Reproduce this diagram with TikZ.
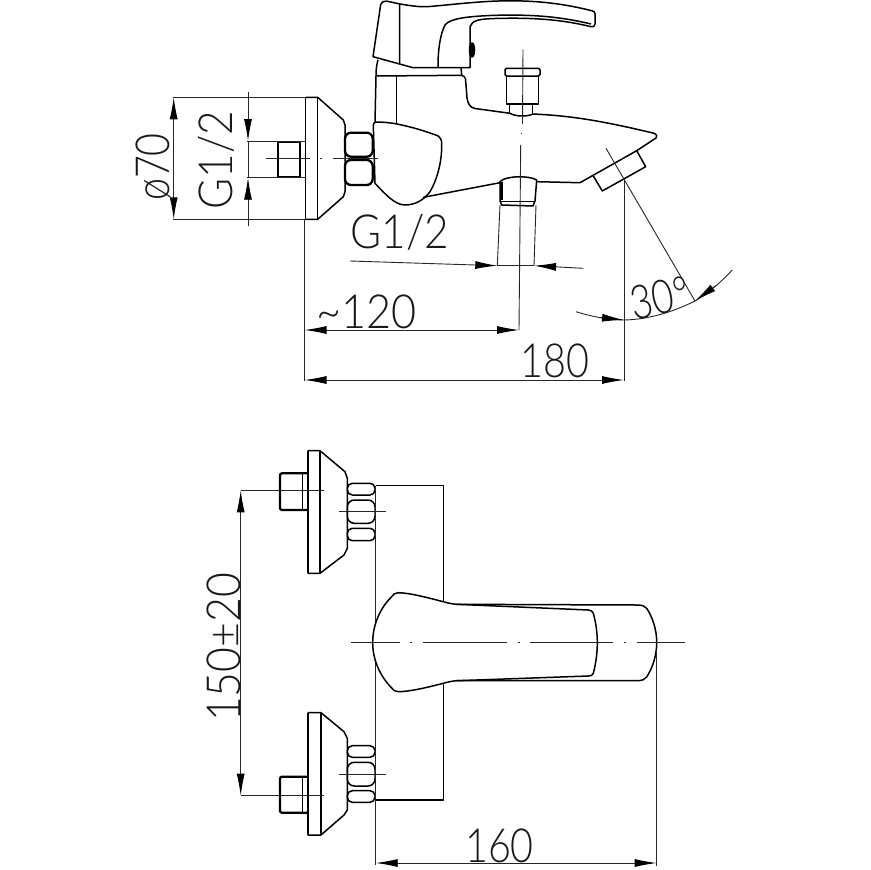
\documentclass[tikz,border=0pt]{standalone}
\usepackage{fontspec}
\setmainfont{Lato}[UprightFont=* Light]
\usetikzlibrary{arrows.meta}
\tikzset{
  part/.style={line width=1.5pt,line join=round,black},
  heavy/.style={line width=2.3pt,line join=round,black},
  thin line/.style={line width=.9pt,black!85},
  dimline/.style={line width=.9pt,black!85},
  dimarrow/.style={-{Latex[length=22pt,width=8pt,black]}},
  twoarrow/.style={{Latex[length=22pt,width=8pt,black]}-{Latex[length=22pt,width=8pt,black]}},
  dimlabel/.style={font=\fontsize{47}{47}\selectfont,inner sep=0pt,text=black!90}
}
\newcommand{\dimtxt}[2][.84]{\scalebox{#1}[1]{#2}}
\begin{document}
\begin{tikzpicture}[x=1pt,y=-1pt]
\useasboundingbox (0,0) rectangle (870,870);
% ---------- side view: wall flange
\draw[part] (305.7,97.3) -- (317.7,97.3) -- (343.3,120) -- (345,125) -- (345,191.7) -- (343.3,196.7) -- (317.7,219.3) -- (305.7,219.3);
\draw[part] (317.7,97.3) -- (317.7,219.3);
\draw[part] (305.7,97.3) -- (305.7,219.3);
\draw[heavy] (277.7,141.7) rectangle (300,177.3);
\draw[part] (300,141.7) -- (300,177.3);
% nuts
\draw[heavy,rounded corners=6pt] (345,132.7) rectangle (372.7,156.7);
\draw[heavy,rounded corners=6pt] (345,160) rectangle (372.7,185);
% handle
\draw[part,fill=white] (373,56.7) -- (380.7,4.5) .. controls (381.5,1.5) and (384,0.8) .. (387,1.2) -- (400,4)
  .. controls (412,6) and (420,7) .. (427,6.7) .. controls (450,5) and (480,0.8) .. (510,0.8)
  .. controls (540,0.8) and (565,4) .. (591.7,10.7) .. controls (594,11.3) and (595,12) .. (595,14) -- (595,24)
  .. controls (595,26.5) and (593,27.3) .. (591,26.7) .. controls (560,19) and (530,17.5) .. (495,18.5)
  .. controls (480,19) and (472,20) .. (470,26.7) -- (470,67.7) -- (413,67.7) -- cycle;
\draw[part] (591,24) .. controls (560,16.5) and (530,14) .. (490,15.5) .. controls (470,16.5) and (450,18) .. (445,25)
  .. controls (440,35) and (438,50) .. (438,67);
\draw[part] (399.7,4) -- (399.5,63.5);
\draw[part,fill=black] (472,50) ellipse (2.5pt and 7pt);
\draw[part,fill=white!60] (473,50) ellipse (.6pt and 4pt);
% neck and body
\draw[part] (378,60) .. controls (376.5,65) and (376,70) .. (376,76) -- (375,122);
\draw[part] (376,76) -- (461.7,75.3);
\draw[part] (461,67.7) -- (461.7,75.3) .. controls (464,76) and (465,77) .. (465.5,79) -- (467,98)
  .. controls (468,104) and (470,107.5) .. (475,108.5) -- (510,113.3)
  .. controls (515,116.5) and (527,117) .. (533,114)
  .. controls (565,115.5) and (595,119) .. (654,133.3) .. controls (657,134.5) and (657.5,136.5) .. (656,138)
  -- (636.7,150.7) -- (580,182.7) -- (536.7,181.7);
\draw[part] (396.7,76) -- (396.7,123);
% aerator
\draw[part] (593.3,176) -- (602.3,191) -- (645.7,166.7) -- (636.7,150.7);
% diverter
\draw[part,rounded corners=1.5pt] (505,68.3) rectangle (540,76);
\draw[part] (506.7,76) -- (506.7,104) -- (538.3,104) -- (538.3,76);
\draw[part] (509.3,104) -- (509.3,113.3);
\draw[part] (532.7,104) -- (532.7,114);
% lever cup
\draw[part,fill=white] (376,122) .. controls (384,122) and (392,123) .. (397,124)
  .. controls (412,127) and (425,131) .. (438.3,136) .. controls (440.5,137.5) and (441.7,140) .. (441.7,144)
  .. controls (442,160) and (438,178) .. (430,191.7) .. controls (424,200) and (415,205) .. (405,205)
  .. controls (395,205) and (385,194) .. (375,183.3) -- (373.3,125) .. controls (373.5,123) and (374.5,122) .. (376,122) -- cycle;
\draw[part] (423.3,197.3) -- (500,182.7);
% outlet connector
\draw[part] (500,181.7) .. controls (505,175.5) and (530,175.5) .. (536.7,180);
\draw[part] (500,181) -- (500,201) -- (501.7,205) -- (533,206) -- (535,201) -- (536.7,180);
\draw[part] (501,201.7) -- (535,201.7);
\draw[part] (502,181.7) -- (502,200);
\draw[thin line] (500,205) -- (497.3,265.7);
\draw[thin line] (536,205) -- (534,265.7);
% ---------- side view: centre lines and dimensions
\draw[thin line] (265.7,158.3) -- (310,158.3) (320,158.3) -- (322,158.3) (333,158.3) -- (378,158.3);
\draw[thin line] (523,49.5) -- (522.5,124);
\draw[thin line] (521,132.5) -- (521,134);
\draw[thin line] (520.7,145) -- (519,330);
\draw[thin line] (606,148.3) -- (695,301);
% phi 70
\draw[dimline] (173.3,97.3) -- (305.7,97.3);
\draw[dimline] (173.3,219.3) -- (305.7,219.3);
\draw[dimline,twoarrow] (173.7,97.3) -- (173.7,219.3);
% G1/2 vertical
\draw[dimline] (247.3,141) -- (305.7,141);
\draw[dimline] (247.3,177.7) -- (305.7,177.7);
\coordinate (gtop) at (248,91.7);
\coordinate (gtopend) at (248,141);
\coordinate (gbot) at (248,226);
\coordinate (gbotend) at (248,177.7);
\draw[dimline,dimarrow] (gtop) -- (gtopend);
\draw[dimline,dimarrow] (gbot) -- (gbotend);
\draw[dimline] (248,141) -- (248,177.7);
% G1/2 horizontal
\draw[dimline,dimarrow] (350,261) -- (497.3,265.7);
\draw[dimline,dimarrow] (583.3,268.3) -- (534,265.7);
\draw[dimline] (497.3,265.7) -- (534,265.7);
% ~120, 180
\draw[dimline] (304.5,219.3) -- (304.5,381);
\draw[dimline,twoarrow] (304.5,330) -- (519,330);
\draw[dimline] (624,180) -- (624,381);
\draw[dimline,twoarrow] (304.5,380) -- (624,380);
% 30 deg
\draw[dimline] (576,311.7) .. controls (590,316) and (605,319.5) .. (624,320);
\draw[dimline,-{Latex[length=22pt,width=8pt,black]}] (600,317.5) -- (624,320);
\draw[dimline] (624,320) .. controls (650,319.5) and (675,311) .. (695,301);
\draw[dimline] (695,301) .. controls (710,292) and (722,281) .. (732.3,270);
\draw[dimline,-{Latex[length=22pt,width=8pt,black]}] (716,285.5) -- (695,301);
% labels upper
\node[dimlabel,rotate=90] (phi) at (154,167) {\dimtxt{ø70}};
\node[dimlabel,rotate=90] (gv) at (216,160) {\dimtxt[.9]{G1/2}};
\node[dimlabel] (gh) at (400,232) {\dimtxt[.9]{G1/2}};
\node[dimlabel] (l120) at (366.5,312) {\dimtxt[.92]{\char`\~120}};
\node[dimlabel] (l180) at (555,361) {\dimtxt{180}};
\node[dimlabel,rotate=12] (l30) at (660,298) {\dimtxt[.8]{30°}};
% ---------- front view: upper valve
\draw[part] (307.7,450.7) -- (320,450.7) -- (345,471.7) -- (347.3,478.3) -- (347.3,548.3) -- (344,555) -- (320,573.3) -- (307.7,573.3);
\draw[heavy] (307.7,450.7) -- (307.7,573.3);
\draw[part] (320,450.7) -- (320,573.3);
\draw[heavy,rounded corners=2pt] (307.3,473.3) -- (280,473.3) -- (280,510) -- (307.3,510);
\draw[part] (302.7,473.3) -- (302.7,510);
\draw[part,rounded corners=5pt] (347.3,483.3) rectangle (375,495);
\draw[part,rounded corners=7pt] (347.3,500) rectangle (375,523.3);
\draw[part,rounded corners=5pt] (347.3,528.3) rectangle (375,540.7);
\draw[thin line] (339.3,511.7) -- (385.7,511.7);
% lower valve
\draw[part] (307.7,712.7) -- (321,712.7) -- (344,731.7) -- (347.3,738.3) -- (347.3,810) -- (344,815) -- (321,835) -- (307.7,835);
\draw[heavy] (307.7,712.7) -- (307.7,835);
\draw[part] (321,712.7) -- (321,835);
\draw[heavy,rounded corners=2pt] (307.3,776.7) -- (280,776.7) -- (280,812.7) -- (307.3,812.7);
\draw[part] (302.7,776.7) -- (302.7,812.7);
\draw[part,rounded corners=5pt] (347.3,745.7) rectangle (375,757.3);
\draw[part,rounded corners=7pt] (347.3,762.3) rectangle (375,786);
\draw[part,rounded corners=5pt] (347.3,790.7) rectangle (375,802.3);
\draw[thin line] (339.3,774) -- (385.7,774);
% body
\draw[part] (375.7,485.7) -- (443.3,485.7) -- (443.3,800) -- (375.7,800);
\draw[thin line,line width=1.2pt] (375.7,485.7) -- (375.7,865);
% spout
\draw[part,fill=white] (398.3,592.7) .. controls (410,593) and (425,597) .. (443.3,601.7) .. controls (448,603) and (452,604) .. (456.7,604.3)
  -- (636.7,605) .. controls (642,605) and (645,606) .. (646.7,608.3) .. controls (653,618) and (656.7,630) .. (656.7,642.7)
  .. controls (656.7,655) and (653,667) .. (646.7,677) .. controls (645,679.5) and (642,680.7) .. (636.7,680.7)
  -- (456.7,680.7) .. controls (452,681) and (448,682) .. (443.3,683.3) .. controls (425,688) and (410,691.5) .. (398.3,691.7)
  .. controls (395,691.7) and (393,690) .. (391.7,688) .. controls (380,676) and (372.7,660) .. (372.7,642.7)
  .. controls (372.7,625) and (380,608) .. (391.7,596.7) .. controls (393,594.5) and (395,592.7) .. (398.3,592.7) -- cycle;
\draw[part] (456.7,604.3) -- (588.3,610) .. controls (591,610.3) and (592.5,611) .. (593.3,613.3)
  .. controls (596,623) and (597.3,633) .. (597.3,642.7) .. controls (597.3,653) and (596,663) .. (593.3,673.3)
  .. controls (592.5,675.5) and (591,676) .. (588.3,676) -- (456.7,680.7);
\draw[thin line,line width=1.1pt] (351,642.7) -- (400,642.7) (410,642.7) -- (412,642.7) (422.7,642.7) -- (507,642.7)
  (517.5,642.7) -- (519.5,642.7) (530,642.7) -- (613.3,642.7) (624,642.7) -- (626,642.7) (636.7,642.7) -- (685,642.7);
% front view dimensions
\draw[dimline] (240.7,490.3) -- (324.3,490.3);
\draw[dimline] (240.7,795.7) -- (324.3,795.7);
\draw[dimline,twoarrow] (240.7,490.3) -- (240.7,795.7);
\draw[dimline] (656.7,650) -- (656.7,866);
\draw[dimline,twoarrow] (375.7,863) -- (656.7,863);
\node[dimlabel,rotate=90] (l150) at (224,647.5) {\dimtxt[.91]{150±20}};
\node[dimlabel] (l160) at (499.5,846) {\dimtxt{160}};
\end{tikzpicture}
\end{document}
